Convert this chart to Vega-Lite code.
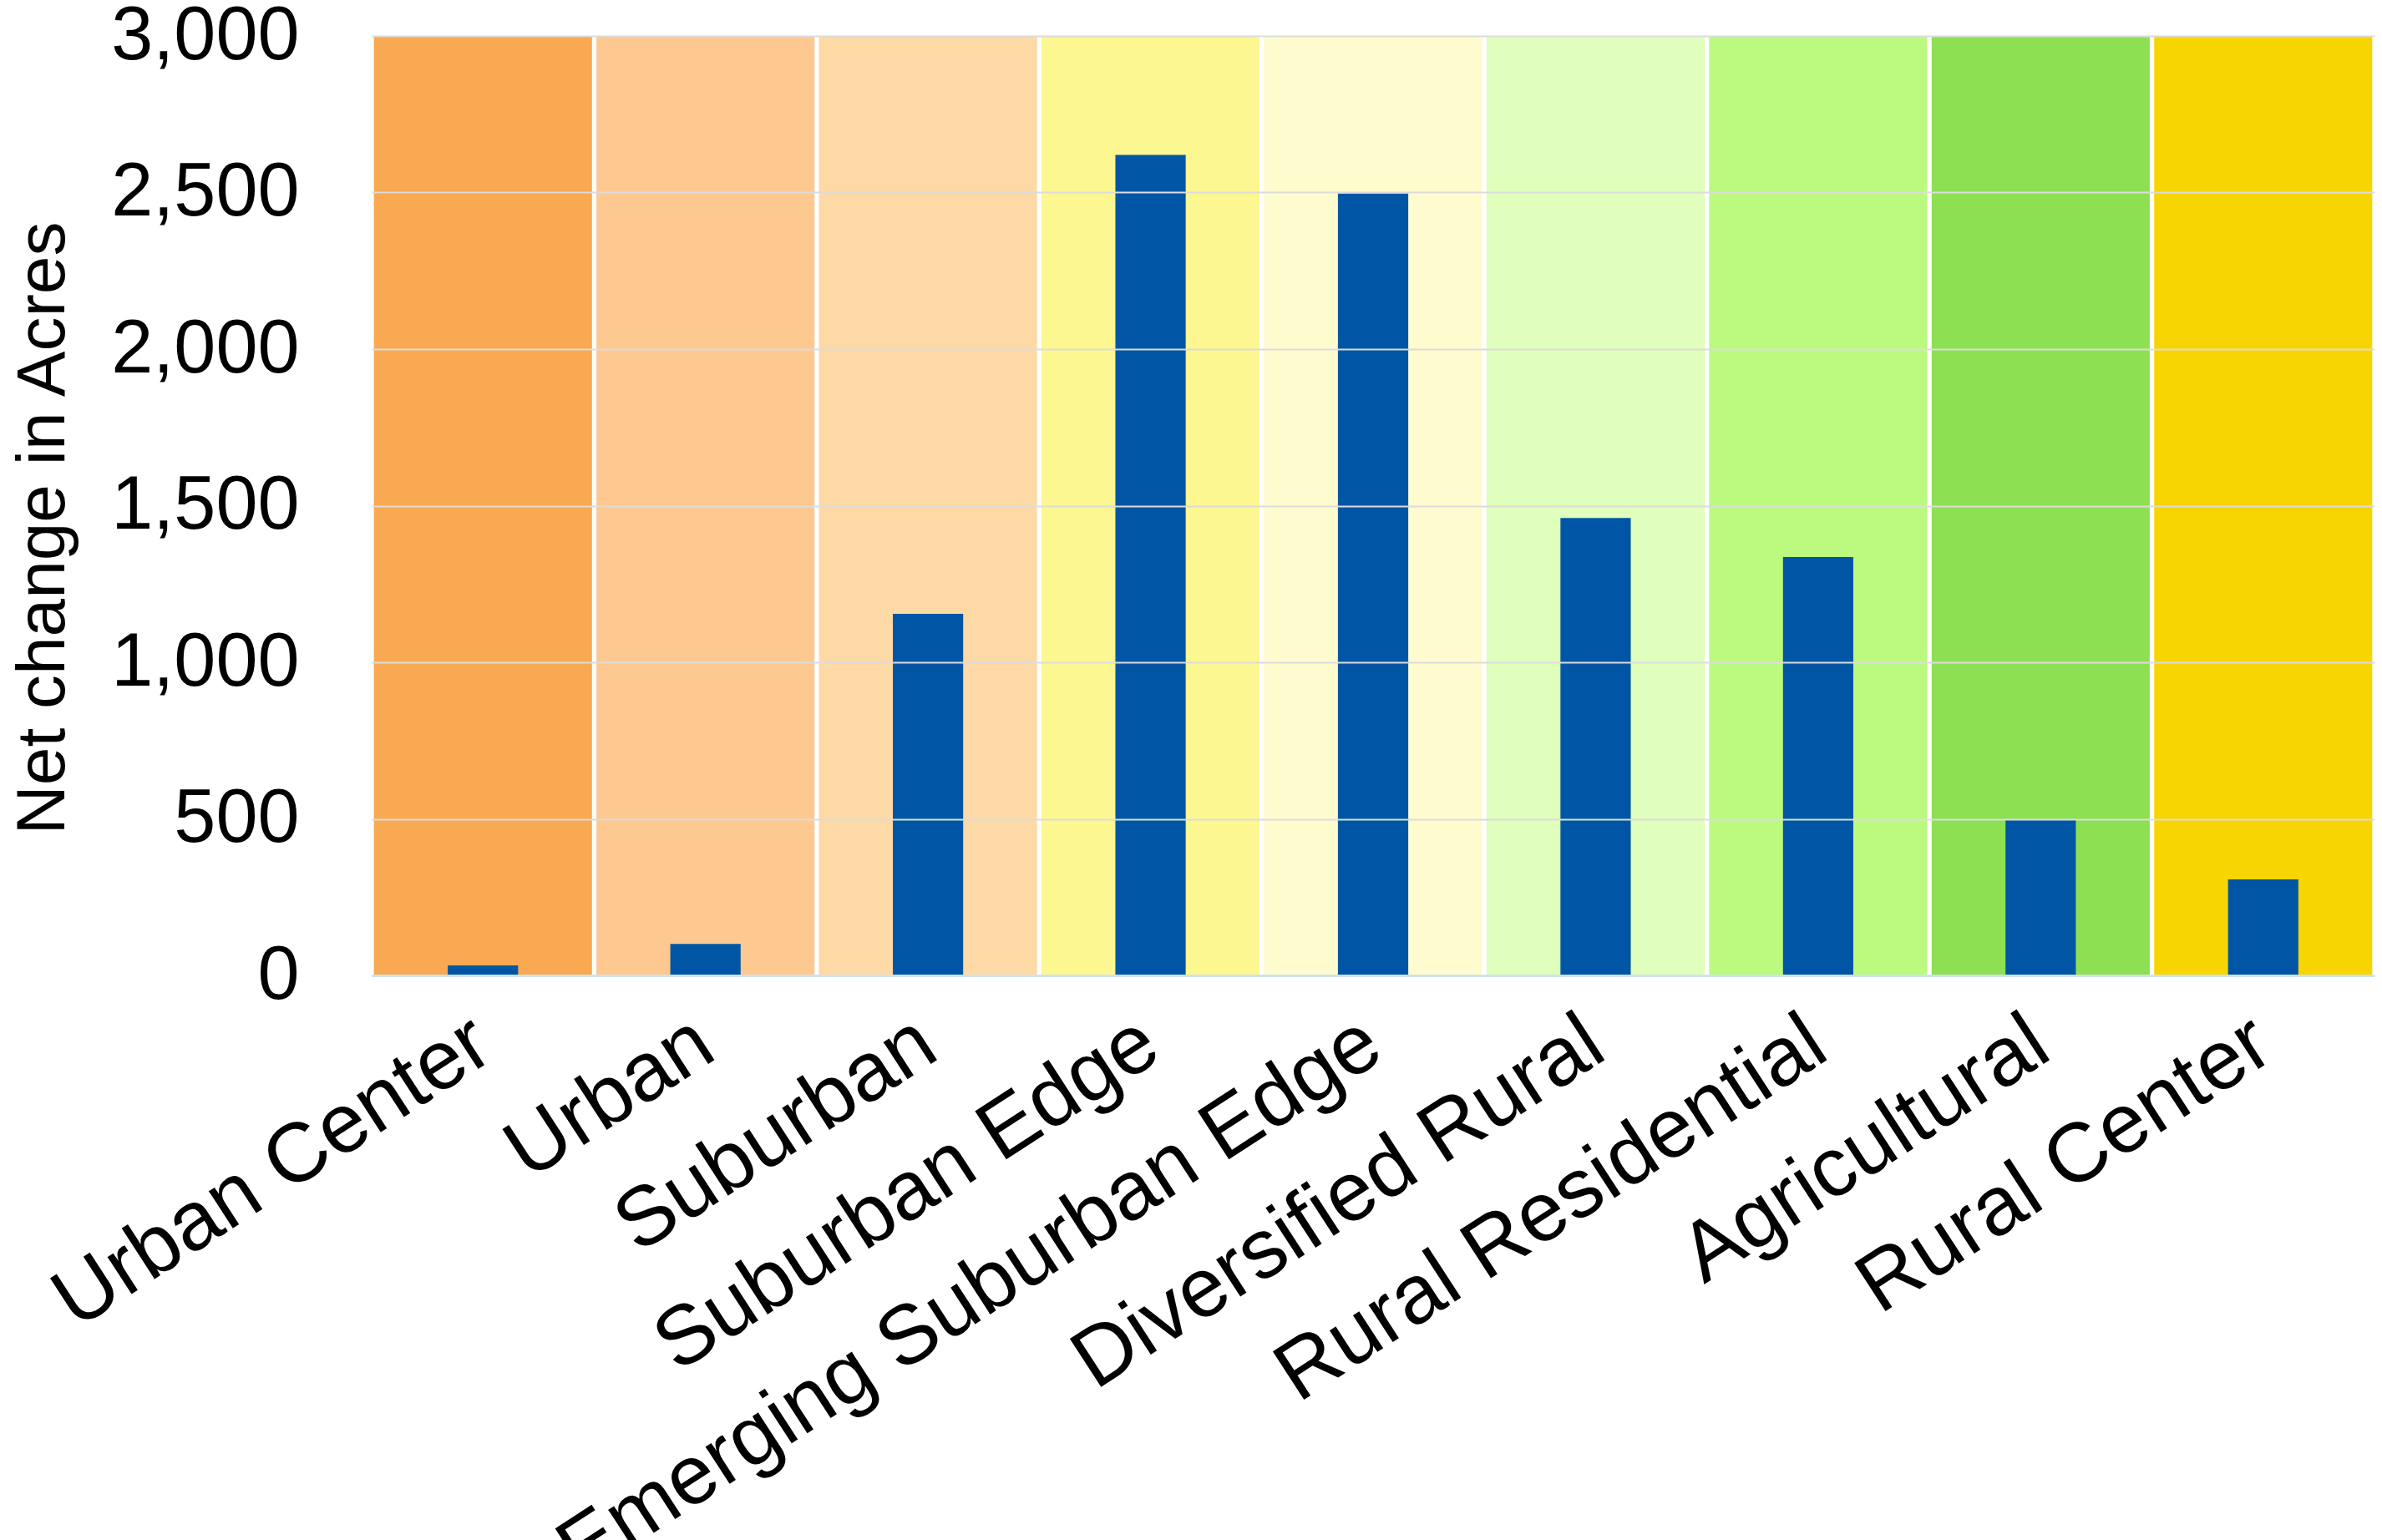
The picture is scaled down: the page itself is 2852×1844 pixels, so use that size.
{
  "$schema": "https://vega.github.io/schema/vega-lite/v6.json",
  "width": 2398,
  "height": 1125,
  "autosize": "none",
  "padding": {"left": 445, "top": 43, "right": 9, "bottom": 676},
  "background": "white",
  "config": {"view": {"stroke": null}, "font": "Liberation Sans"},
  "data": {
    "values": [
      {"type": "Urban Center", "acres": 32},
      {"type": "Urban", "acres": 101},
      {"type": "Suburban", "acres": 1155},
      {"type": "Suburban Edge", "acres": 2620},
      {"type": "Emerging Suburban Edge", "acres": 2497},
      {"type": "Diversified Rural", "acres": 1461},
      {"type": "Rural Residential", "acres": 1336},
      {"type": "Agricultural", "acres": 499},
      {"type": "Rural Center", "acres": 307}
    ]
  },
  "encoding": {
    "x": {
      "field": "type",
      "type": "nominal",
      "sort": null,
      "scale": {"paddingInner": 0, "paddingOuter": 0},
      "axis": {
        "title": null,
        "labelAngle": -33,
        "labelAlign": "right",
        "labelBaseline": "middle",
        "labelFontSize": 100,
        "labelColor": "black",
        "labelPadding": 72,
        "labelLimit": 3000,
        "ticks": false,
        "domain": true,
        "domainColor": "#cfe2ee",
        "domainWidth": 3,
        "zindex": 1
      }
    }
  },
  "layer": [
    {
      "mark": {"type": "bar", "width": {"band": 0.98}},
      "encoding": {
        "y": {
          "datum": 3000,
          "type": "quantitative",
          "scale": {"domain": [0, 3000], "nice": false},
          "axis": {
            "title": "Net change in Acres",
            "values": [0, 500, 1000, 1500, 2000, 2500, 3000],
            "format": ",.0f",
            "labelFontSize": 90,
            "labelColor": "black",
            "labelPadding": 87,
            "labelLimit": 1000,
            "ticks": false,
            "domain": false,
            "grid": true,
            "gridColor": "#dcdcdc",
            "gridWidth": 2,
            "titleFontSize": 82,
            "titleFontWeight": "normal",
            "titleColor": "black",
            "titleAngle": -90,
            "titleAlign": "center",
            "titleBaseline": "middle",
            "titleX": -394,
            "titleY": 589,
            "zindex": 1
          }
        },
        "y2": {"datum": 0},
        "color": {
          "field": "type",
          "type": "nominal",
          "sort": null,
          "legend": null,
          "scale": {
            "domain": ["Urban Center", "Urban", "Suburban", "Suburban Edge", "Emerging Suburban Edge", "Diversified Rural", "Rural Residential", "Agricultural", "Rural Center"],
            "range": ["#F9A951", "#FDC991", "#FDD9A6", "#FCF790", "#FEFBCE", "#E0FEBC", "#BCFA7F", "#8EE053", "#F7D503"]
          }
        }
      }
    },
    {
      "mark": {"type": "bar", "width": {"band": 0.316}, "color": "#0056A4"},
      "encoding": {
        "y": {"field": "acres", "type": "quantitative"}
      }
    }
  ]
}
